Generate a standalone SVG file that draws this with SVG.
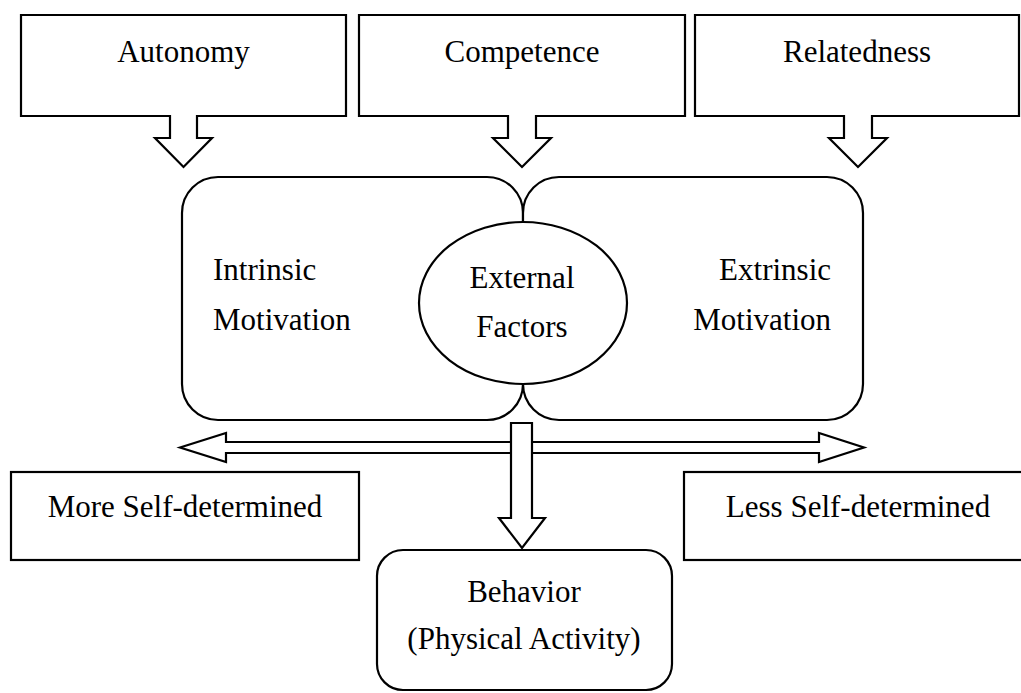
<svg xmlns="http://www.w3.org/2000/svg" width="1021" height="693" viewBox="0 0 1021 693">
<style>
.s{fill:#fff;stroke:#000;stroke-width:2.2;stroke-linejoin:miter}
.t{font-family:"Liberation Serif","Times New Roman",serif;font-size:31px;fill:#000}
.m{text-anchor:middle}
.e{text-anchor:end}
</style>
<rect width="1021" height="693" fill="#fff"/>
<g id="autonomy">
<path class="s" d="M21,15 H346 V116 H197 V138 H212 L183.5,167 L155,138 H170 V116 H21 Z"/>
<text class="t m" x="183.5" y="62">Autonomy</text>
</g>
<g id="competence">
<path class="s" d="M359,15 H685 V116 H536 V138 H551 L522,167 L493,138 H508 V116 H359 Z"/>
<text class="t m" x="522" y="62">Competence</text>
</g>
<g id="relatedness">
<path class="s" d="M695,15 H1019 V116 H872 V138 H887 L858,167 L829,138 H844 V116 H695 Z"/>
<text class="t m" x="857" y="62">Relatedness</text>
</g>
<g id="intrinsic">
<rect class="s" x="182" y="177" width="341" height="243" rx="36" ry="36"/>
<text class="t" x="213" y="280">Intrinsic</text>
<text class="t" x="213" y="330">Motivation</text>
</g>
<g id="extrinsic">
<rect class="s" x="523" y="177" width="340" height="243" rx="36" ry="36"/>
<text class="t e" x="831" y="280">Extrinsic</text>
<text class="t e" x="831" y="330">Motivation</text>
</g>
<g id="external">
<ellipse class="s" cx="523" cy="303" rx="104" ry="81"/>
<text class="t m" x="522" y="288">External</text>
<text class="t m" x="522" y="337">Factors</text>
</g>
<g id="more">
<rect class="s" x="11" y="472" width="348" height="88"/>
<text class="t m" x="185" y="517">More Self-determined</text>
</g>
<g id="less">
<rect class="s" x="684" y="472" width="350" height="88"/>
<text class="t m" x="858" y="517">Less Self-determined</text>
</g>
<g id="behavior">
<rect class="s" x="377" y="550" width="295" height="140" rx="26" ry="26"/>
<text class="t m" x="524" y="602">Behavior</text>
<text class="t m" x="524" y="649">(Physical Activity)</text>
</g>
<g id="connectors">
<path class="s" d="M180,447.5 L226,433 V442 H819 V433 L864,447.5 L819,462 V453 H226 V462 Z"/>
<path class="s" d="M511,423 H532 V518 H545 L522,548 L499,518 H511 Z"/>
</g>
</svg>
